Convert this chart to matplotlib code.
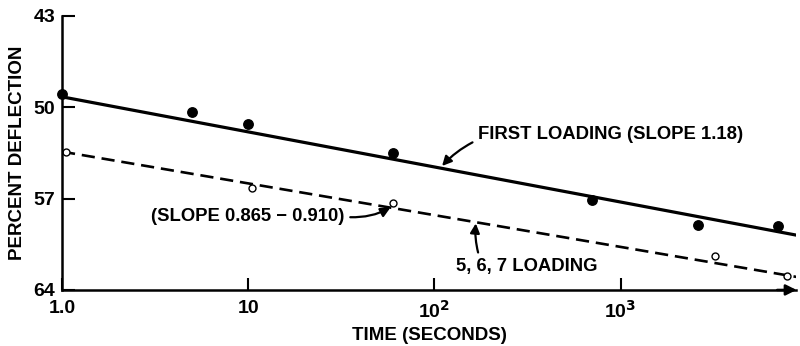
import matplotlib
matplotlib.use("Agg")
import matplotlib.pyplot as plt
from matplotlib.ticker import FixedLocator, NullLocator

plt.rcParams['font.family'] = ['Liberation Sans', 'DejaVu Sans']
plt.rcParams['font.weight'] = 'bold'

# Data
first_x = [1.0, 5, 10, 60, 700, 2600, 7000]
first_y = [49.0, 50.4, 51.3, 53.5, 57.1, 59.0, 59.1]
later_x = [1.05, 10.5, 60, 3200, 7800]
later_y = [53.4, 56.2, 57.3, 61.4, 62.9]
fit_x = [1.0, 8800]
first_fit = [49.2, 59.8]
later_fit = [53.4, 63.0]

xticks = [1, 10, 100, 1000]
xtick_labels = ['1.0', '10', '10$^2$', '10$^3$']
yticks = [43, 50, 57, 64]
ytick_labels = ['43', '50', '57', '64']

fig = plt.figure(figsize=(8, 3.46), dpi=100)
ax = fig.add_axes([0.0775, 0.162, 0.918, 0.792])

ax.plot(fit_x, first_fit, color='black', lw=2.3, solid_capstyle='butt')
ax.plot(fit_x, later_fit, color='black', lw=1.9, dashes=(5, 2.6))
ax.plot(first_x, first_y, 'o', color='black', ms=6.8, clip_on=False)
ax.plot(later_x, later_y, 'o', mfc='white', mec='black', mew=1.0, ms=5, clip_on=False)

ax.set_xscale('log')
ax.set_xlim(1, 8800)
ax.set_ylim(64, 43)
ax.xaxis.set_major_locator(FixedLocator(xticks))
ax.xaxis.set_minor_locator(NullLocator())
ax.set_xticklabels(xtick_labels)
ax.set_yticks(yticks)
ax.set_yticklabels(ytick_labels)

for s in ['top', 'right']:
    ax.spines[s].set_visible(False)
ax.spines['left'].set_linewidth(1.8)
ax.spines['bottom'].set_linewidth(1.8)
ax.tick_params(axis='both', direction='in', length=9, width=1.5, labelsize=14, pad=5)
ax.tick_params(axis='x', pad=7)
for lab in ax.get_xticklabels() + ax.get_yticklabels():
    lab.set_fontweight('bold')

ax.annotate('', xy=(1.004, 0), xytext=(0.97, 0), xycoords='axes fraction',
            arrowprops=dict(arrowstyle='-|>', color='black', lw=1.8, mutation_scale=16),
            annotation_clip=False)

ax.set_xlabel('TIME (SECONDS)', fontsize=13.5, fontweight='bold', labelpad=4)
ax.set_ylabel('PERCENT DEFLECTION', fontsize=13.5, fontweight='bold', labelpad=5)

ap = dict(arrowstyle='-|>', color='black', lw=1.6, mutation_scale=14, shrinkA=2, shrinkB=0)
ax.annotate('FIRST LOADING (SLOPE 1.18)', xy=(110, 54.5), xytext=(171, 52.1),
            fontsize=13.3, fontweight='bold', va='center', ha='left',
            arrowprops=dict(ap, relpos=(0, 0.2), connectionstyle='arc3,rad=0.1'))
ax.annotate('(SLOPE 0.865 \u2212 0.910)', xy=(58, 57.7), xytext=(33, 58.4),
            fontsize=13.3, fontweight='bold', va='center', ha='right',
            arrowprops=dict(ap, relpos=(1, 0.5), connectionstyle='arc3,rad=0.15'))
ax.annotate('5, 6, 7 LOADING', xy=(167, 58.9), xytext=(130, 62.2),
            fontsize=13.3, fontweight='bold', va='center', ha='left',
            arrowprops=dict(ap, relpos=(0.17, 1.0), connectionstyle='arc3,rad=-0.1'))

fig.savefig('out.png', dpi=100)
